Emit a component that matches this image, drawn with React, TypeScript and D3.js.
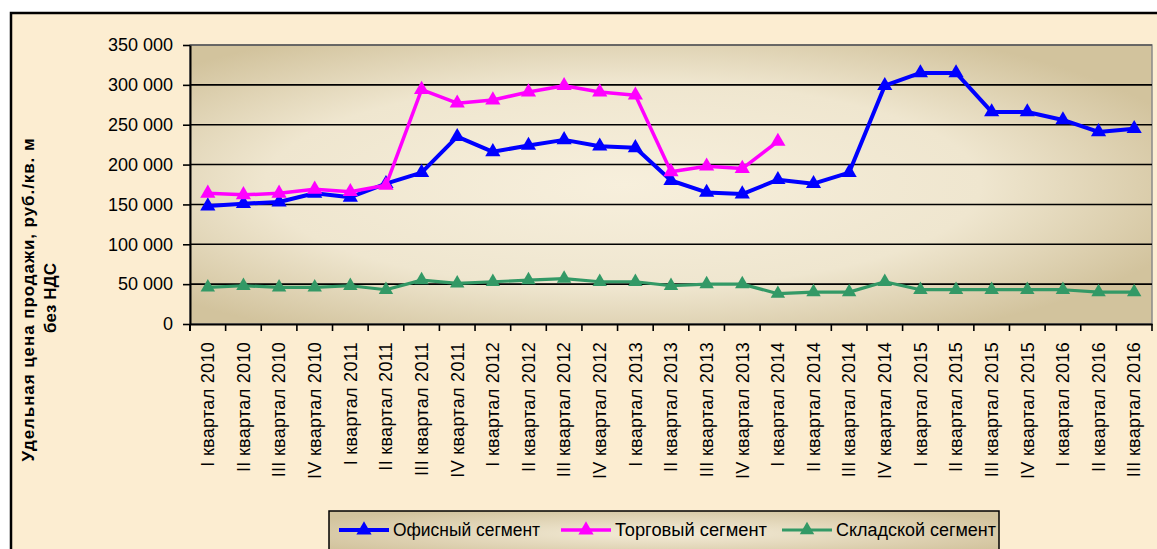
import React, { useRef, useEffect } from "react";
import * as d3 from "d3";

// quarter labels along the x axis
const categories = [
  "I квартал 2010", "II квартал 2010", "III квартал 2010", "IV квартал 2010",
  "I квартал 2011", "II квартал 2011", "III квартал 2011", "IV квартал 2011",
  "I квартал 2012", "II квартал 2012", "III квартал 2012", "IV квартал 2012",
  "I квартал 2013", "II квартал 2013", "III квартал 2013", "IV квартал 2013",
  "I квартал 2014", "II квартал 2014", "III квартал 2014", "IV квартал 2014",
  "I квартал 2015", "II квартал 2015", "III квартал 2015", "IV квартал 2015",
  "I квартал 2016", "II квартал 2016", "III квартал 2016",
];

const officeValues = [
  148000, 151000, 153000, 164000, 159000, 176000, 190000, 235000, 216000,
  224000, 231000, 223000, 221000, 180000, 165000, 163000, 181000, 176000,
  190000, 299000, 315000, 315000, 266000, 266000, 256000, 241000, 245000,
];

// retail series stops at I 2014
const retailValues = [
  164000, 162000, 164000, 169000, 166000, 174000, 294000, 277000, 281000,
  291000, 299000, 291000, 287000, 191000, 198000, 195000, 229000,
];

const warehouseValues = [
  46000, 48000, 46000, 46000, 48000, 43000, 55000, 51000, 53000,
  55000, 57000, 53000, 53000, 48000, 50000, 50000, 38000, 40000,
  40000, 53000, 43000, 43000, 43000, 43000, 43000, 40000, 40000,
];

const yTicks = [0, 50000, 100000, 150000, 200000, 250000, 300000, 350000];

const seriesNames = ["Офисный сегмент", "Торговый сегмент", "Складской сегмент"];

const W = 1157;
const H = 549;
const FONT = "'Liberation Sans', Arial, sans-serif";

const Chart = () => {
  const svgRef = useRef(null);

  useEffect(() => {
    const svg = d3.select(svgRef.current);
    svg.selectAll("*").remove();

    const plot = { left: 190, right: 1152, top: 45, bottom: 324 };

    const defs = svg.append("defs");
    const plotGrad = defs.append("radialGradient")
      .attr("id", "plotBg")
      .attr("cx", "0.45").attr("cy", "0.5").attr("r", "0.62");
    plotGrad.append("stop").attr("offset", "0").attr("stop-color", "#f7efdc");
    plotGrad.append("stop").attr("offset", "0.6").attr("stop-color", "#efe6cf");
    plotGrad.append("stop").attr("offset", "1").attr("stop-color", "#d2c39d");

    const legGrad = defs.append("radialGradient")
      .attr("id", "legBg")
      .attr("cx", "0.5").attr("cy", "0.5").attr("r", "0.6");
    legGrad.append("stop").attr("offset", "0").attr("stop-color", "#f4ecd8");
    legGrad.append("stop").attr("offset", "1").attr("stop-color", "#d2c39d");

    // outer chart frame
    svg.append("rect")
      .attr("x", 11).attr("y", 13)
      .attr("width", 1200).attr("height", 600)
      .attr("fill", "#fcedd1")
      .attr("stroke", "#000")
      .attr("stroke-width", 2.5);

    const x = d3.scaleBand()
      .domain(categories)
      .range([plot.left, plot.right]);

    const y = d3.scaleLinear()
      .domain([0, 350000])
      .range([plot.bottom, plot.top]);

    const cx = (i) => x(categories[i]) + x.bandwidth() / 2;

    // plot area
    svg.append("rect")
      .attr("x", plot.left).attr("y", plot.top)
      .attr("width", plot.right - plot.left)
      .attr("height", plot.bottom - plot.top)
      .attr("fill", "url(#plotBg)")
      .attr("stroke", "#8a8a8a")
      .attr("stroke-width", 1.5);

    // horizontal grid
    svg.append("g")
      .selectAll("line")
      .data(yTicks.filter(d => d > 0))
      .enter()
      .append("line")
      .attr("x1", plot.left)
      .attr("x2", plot.right)
      .attr("y1", d => y(d))
      .attr("y2", d => y(d))
      .attr("stroke", d => (d === 350000 ? "#555" : "#000"))
      .attr("stroke-width", 1.6);

    // y axis
    const fmt = d3.formatLocale({ decimal: ",", thousands: " ", grouping: [3], currency: ["", ""] }).format(",");
    const yAxis = svg.append("g")
      .attr("transform", `translate(${plot.left},0)`)
      .call(d3.axisLeft(y).tickValues(yTicks).tickSize(7).tickSizeOuter(0).tickPadding(10).tickFormat(fmt));
    yAxis.select(".domain").attr("stroke", "#000").attr("stroke-width", 2);
    yAxis.selectAll(".tick line").attr("stroke", "#000").attr("stroke-width", 1.6);
    yAxis.selectAll("text")
      .attr("font-family", FONT)
      .attr("font-size", "18px")
      .attr("fill", "#000");
    // axis line runs down past the zero tick like the x ticks
    yAxis.append("line")
      .attr("x1", 0).attr("x2", 0)
      .attr("y1", plot.bottom).attr("y2", plot.bottom + 7)
      .attr("stroke", "#000").attr("stroke-width", 2);

    // x axis
    const xAxis = svg.append("g")
      .attr("transform", `translate(0,${plot.bottom})`)
      .call(d3.axisBottom(x).tickSize(0).tickSizeOuter(0).tickPadding(0));
    xAxis.select(".domain").attr("stroke", "#000").attr("stroke-width", 2);
    xAxis.selectAll("text")
      .attr("transform", "rotate(-90)")
      .attr("text-anchor", "end")
      .attr("x", -18)
      .attr("y", 0)
      .attr("dy", "0.35em")
      .attr("font-family", FONT)
      .attr("font-size", "18px")
      .attr("letter-spacing", "0.3px")
      .attr("fill", "#000");

    // boundary tick marks between quarters
    xAxis.append("g")
      .selectAll("line")
      .data(d3.range(categories.length + 1))
      .enter()
      .append("line")
      .attr("x1", i => plot.left + i * x.step())
      .attr("x2", i => plot.left + i * x.step())
      .attr("y1", 0)
      .attr("y2", 7)
      .attr("stroke", "#000")
      .attr("stroke-width", 1.6);

    const series = [
      { name: seriesNames[0], values: officeValues, color: "#0000ff", width: 4, size: 100, legW: 147 },
      { name: seriesNames[1], values: retailValues, color: "#ff00ff", width: 3.5, size: 100, legW: 152 },
      { name: seriesNames[2], values: warehouseValues, color: "#339966", width: 3.2, size: 90, legW: 160 },
    ];

    const line = d3.line()
      .x((d, i) => cx(i))
      .y(d => y(d));

    const tri = (size) => d3.symbol().type(d3.symbolTriangle).size(size)();

    series.forEach((s) => {
      svg.append("path")
        .datum(s.values)
        .attr("fill", "none")
        .attr("stroke", s.color)
        .attr("stroke-width", s.width)
        .attr("stroke-linejoin", "round")
        .attr("d", line);

      svg.append("g")
        .selectAll("path")
        .data(s.values)
        .enter()
        .append("path")
        .attr("d", tri(s.size))
        .attr("transform", (d, i) => `translate(${cx(i)},${y(d)})`)
        .attr("fill", s.color);
    });

    // y axis title
    const title = svg.append("g")
      .attr("font-family", FONT)
      .attr("font-weight", "bold")
      .attr("font-size", "17px")
      .attr("fill", "#000")
      .attr("text-anchor", "middle");
    title.append("text")
      .attr("transform", "translate(34,300) rotate(-90)")
      .attr("textLength", 323)
      .attr("lengthAdjust", "spacing")
      .text("Удельная цена продажи, руб./кв. м");
    title.append("text")
      .attr("transform", "translate(56,298) rotate(-90)")
      .text("без НДС");

    // legend
    const legend = svg.append("g");
    legend.append("rect")
      .attr("x", 329).attr("y", 511)
      .attr("width", 670).attr("height", 45)
      .attr("fill", "url(#legBg)")
      .attr("stroke", "#000")
      .attr("stroke-width", 1.5);

    const legendX = [339, 561, 782];
    series.forEach((s, i) => {
      const row = legend.append("g")
        .attr("transform", `translate(${legendX[i]},530)`);
      row.append("line")
        .attr("x1", 0).attr("x2", 50)
        .attr("y1", 0).attr("y2", 0)
        .attr("stroke", s.color)
        .attr("stroke-width", s.width);
      row.append("path")
        .attr("d", tri(s.size))
        .attr("transform", "translate(25,0)")
        .attr("fill", s.color);
      row.append("text")
        .attr("x", 54)
        .attr("y", 0)
        .attr("dy", "0.36em")
        .attr("font-family", FONT)
        .attr("font-size", "18px")
        .attr("textLength", s.legW)
        .attr("lengthAdjust", "spacingAndGlyphs")
        .attr("fill", "#000")
        .text(s.name);
    });
  }, []);

  return (
    <svg
      ref={svgRef}
      width={W}
      height={H}
      style={{ position: "absolute", left: 0, top: 0, background: "#fff" }}
    />
  );
};

export default function App() {
  return <Chart />;
}
